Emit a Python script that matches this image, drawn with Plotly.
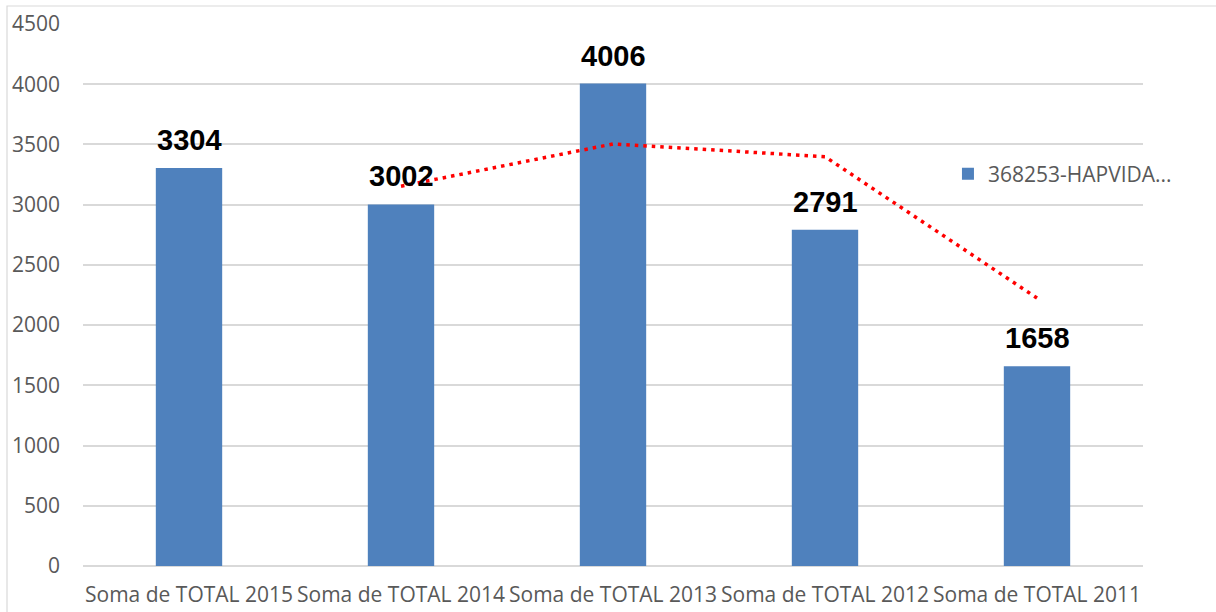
import plotly.graph_objects as go

categories = ["Soma de TOTAL 2015", "Soma de TOTAL 2014", "Soma de TOTAL 2013",
              "Soma de TOTAL 2012", "Soma de TOTAL 2011"]
totals = [3304, 3002, 4006, 2791, 1658]
series_name = "368253-HAPVIDA..."

# 2-period moving average trendline (starts at the second category)
trend_categories = categories[1:]
trend_values = [3153, 3504, 3398.5, 2224.5]

y_ticks = [0, 500, 1000, 1500, 2000, 2500, 3000, 3500, 4000, 4500]

BAR_COLOR = "#4F81BD"
GRID_COLOR = "#D9D9D9"
TEXT_GRAY = "#595959"
TICK_FONT = dict(family="Open Sans", size=21, color=TEXT_GRAY)

fig = go.Figure()

fig.add_trace(go.Bar(
    x=categories,
    y=totals,
    name=series_name,
    marker=dict(color=BAR_COLOR, line=dict(width=0)),
    showlegend=True,
))

fig.add_trace(go.Scatter(
    x=trend_categories,
    y=trend_values,
    mode="lines",
    line=dict(color="#FF0000", width=3.5, dash="3.5px,5px"),
    showlegend=False,
    hoverinfo="skip",
))

# value labels above each bar
for cat, val in zip(categories, totals):
    fig.add_annotation(
        x=cat, y=val, text=f"<b>{val}</b>",
        showarrow=False, yanchor="middle", yshift=28,
        font=dict(family="Liberation Sans, Arial", size=29, color="#000000"),
    )

# outer chart border (top and left edges visible)
fig.add_shape(
    type="rect", xref="paper", yref="paper",
    x0=-0.0717, x1=1.08, y0=-0.1, y1=1.0332,
    line=dict(color=GRID_COLOR, width=1.2), fillcolor="rgba(0,0,0,0)",
    layer="below",
)

fig.update_layout(
    width=1216, height=612,
    margin=dict(l=83, r=73, t=24, b=46, autoexpand=False),
    paper_bgcolor="white", plot_bgcolor="white",
    bargap=0.687,
    font=TICK_FONT,
    legend=dict(
        x=0.816, y=0.723, xanchor="left", yanchor="middle",
        bgcolor="rgba(0,0,0,0)", font=TICK_FONT,
    ),
    xaxis=dict(
        type="category", tickangle=0, showgrid=False, showline=False,
        ticks="", ticklabelstandoff=14, tickfont=TICK_FONT, automargin=False,
    ),
    yaxis=dict(
        range=[0, 4500], tickvals=y_ticks, showgrid=True, gridcolor=GRID_COLOR,
        gridwidth=1.5, zeroline=True, zerolinecolor=GRID_COLOR, zerolinewidth=1.5,
        showline=False, ticks="", ticklabelstandoff=22, tickfont=TICK_FONT,
        automargin=False,
    ),
)

fig.write_html("out.html")
